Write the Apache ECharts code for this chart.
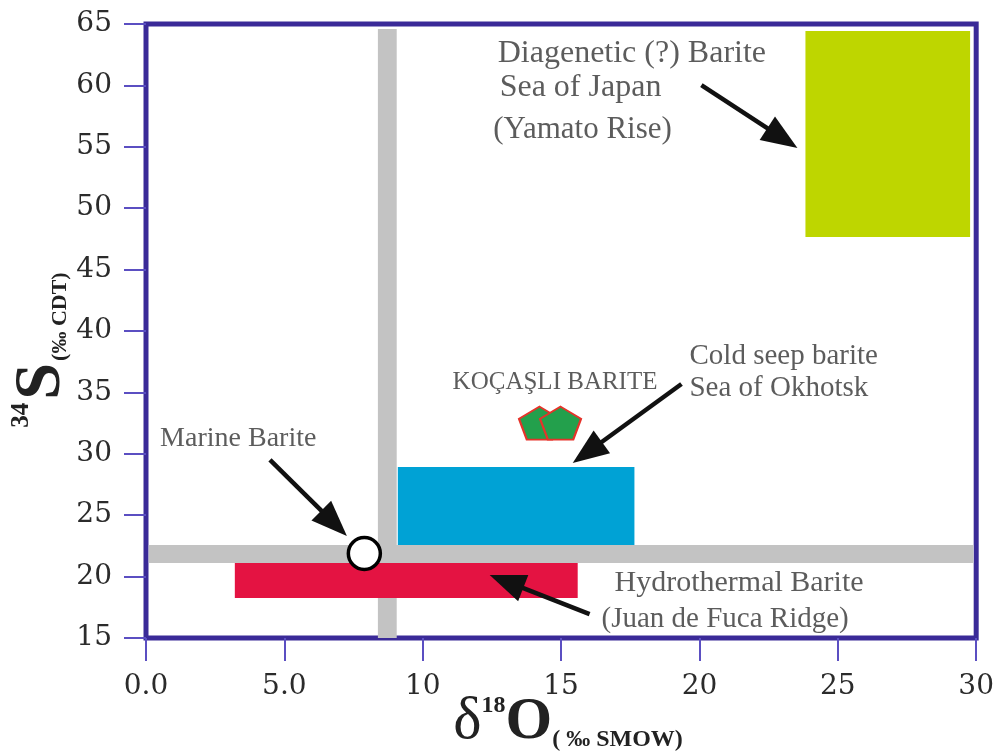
<!DOCTYPE html>
<html>
<head>
<meta charset="utf-8">
<script src="https://cdn.jsdelivr.net/npm/echarts@6/dist/echarts.min.js"></script>
<style>
html,body{margin:0;padding:0;background:#fff;}
#chart{width:997px;height:756px;}
</style>
</head>
<body>
<div id="chart"></div>
<script>
// ---- data ----
var xTicks = [0, 5, 10, 15, 20, 25, 30];
var xTickLabels = ['0.0', '5.0', '10', '15', '20', '25', '30'];
var yTicks = [15, 20, 25, 30, 35, 40, 45, 50, 55, 60, 65];

// fields: [xMin, xMax, yMin, yMax]
var fieldNames = ['Gray δ18O line', 'Gray δ34S line', 'Hydrothermal Barite', 'Cold seep barite', 'Diagenetic Barite'];
var fieldBoxes = [
  [8.38, 9.06, 15.0, 64.6],
  [0.1, 29.9, 21.11, 22.57],
  [3.21, 15.6, 18.26, 21.11],
  [9.1, 17.65, 22.57, 28.93],
  [23.83, 29.78, 47.65, 64.43]
];
var fieldColors = ['#c3c3c3', '#c3c3c3', '#e41342', '#00a2d5', '#bed600'];

var marineBarite = [[7.89, 21.88]];
var kocasliBarite = [[14.22, 32.5], [14.98, 32.5]];

// arrows: [tailX, tailY, tipX, tipY]
var arrows = [
  [20.07, 60.03, 23.54, 54.9],
  [19.35, 35.68, 15.42, 29.25],
  [4.48, 29.5, 7.26, 23.31],
  [16.03, 16.95, 12.42, 20.13]
];

// labels: [x, y, text, fontSize] (text starts at x)
var labels = [
  [12.71, 62.6, 'Diagenetic (?) Barite', 32],
  [12.78, 59.8, 'Sea of Japan', 32],
  [12.55, 56.35, '(Yamato Rise)', 31],
  [11.08, 35.8, 'KOÇAŞLI BARITE', 25],
  [19.64, 37.9, 'Cold seep barite', 29],
  [19.64, 35.3, 'Sea of Okhotsk', 29],
  [0.51, 31.2, 'Marine Barite', 28],
  [16.93, 19.5, 'Hydrothermal Barite', 30],
  [16.46, 16.55, '(Juan de Fuca Ridge)', 29]
];

var SERIF = '"Liberation Serif", "DejaVu Serif", serif';
var TICKFONT = '"DejaVu Serif", "Liberation Serif", serif';
var FRAME = '#3a2a98';
var TICK = '#5b4fc2';

var chart = echarts.init(document.getElementById('chart'));

var option = {
  backgroundColor: '#ffffff',
  animation: false,
  grid: {
    left: 146, right: 20, top: 24, bottom: 118,
    show: true, borderColor: FRAME, borderWidth: 5, backgroundColor: 'transparent'
  },
  xAxis: {
    type: 'value', min: xTicks[0], max: xTicks[xTicks.length - 1], interval: 5,
    axisLine: { show: false },
    splitLine: { show: false },
    axisTick: { show: true, length: 23, lineStyle: { color: TICK, width: 2 } },
    axisLabel: {
      margin: 35, fontFamily: TICKFONT, fontSize: 28, color: '#2b2b2b',
      formatter: function (v) { var i = xTicks.indexOf(v); return i >= 0 ? xTickLabels[i] : ''; }
    }
  },
  yAxis: {
    type: 'value', min: yTicks[0], max: yTicks[yTicks.length - 1], interval: 5,
    axisLine: { show: false },
    splitLine: { show: false },
    axisTick: { show: true, length: 22, lineStyle: { color: TICK, width: 2 } },
    axisLabel: { margin: 34, fontFamily: TICKFONT, fontSize: 28, color: '#2b2b2b' }
  },
  graphic: [
    {
      type: 'text', x: 42, y: 350, rotation: Math.PI / 2,
      style: {
        text: '{sup|34}{main|S}{sub|(‰ CDT)}',
        align: 'center', verticalAlign: 'middle',
        rich: {
          sup: { fontFamily: SERIF, fontSize: 25, fontWeight: 'bold', fill: '#222', verticalAlign: 'top', padding: [0, 3, 0, 0] },
          main: { fontFamily: SERIF, fontSize: 66, fontWeight: 'bold', fill: '#222' },
          sub: { fontFamily: SERIF, fontSize: 22, fontWeight: 'bold', fill: '#222', verticalAlign: 'bottom', padding: [0, 0, 4, 2] }
        }
      }
    },
    {
      type: 'text', x: 568, y: 722,
      style: {
        text: '{d|δ}{sup|18}{main|O}{sub|( ‰ SMOW)}',
        align: 'center', verticalAlign: 'middle',
        rich: {
          d: { fontFamily: SERIF, fontSize: 60, fill: '#222' },
          sup: { fontFamily: SERIF, fontSize: 24, fontWeight: 'bold', fill: '#222', verticalAlign: 'top', padding: [2, 0, 0, 0] },
          main: { fontFamily: SERIF, fontSize: 60, fontWeight: 'bold', fill: '#222' },
          sub: { fontFamily: SERIF, fontSize: 24, fontWeight: 'bold', fill: '#222', verticalAlign: 'bottom' }
        }
      }
    }
  ],
  series: [
    {
      name: 'fields', type: 'custom', z: 1,
      encode: { x: [0, 1], y: [2, 3] },
      data: fieldBoxes,
      renderItem: function (params, api) {
        var p1 = api.coord([api.value(0), api.value(3)]);
        var p2 = api.coord([api.value(1), api.value(2)]);
        return {
          type: 'rect',
          shape: { x: p1[0], y: p1[1], width: p2[0] - p1[0], height: p2[1] - p1[1] },
          style: { fill: fieldColors[params.dataIndex] }
        };
      }
    },
    {
      name: 'arrows', type: 'custom', z: 3,
      encode: { x: [0, 2], y: [1, 3] },
      data: arrows,
      renderItem: function (params, api) {
        var a = api.coord([api.value(0), api.value(1)]);
        var b = api.coord([api.value(2), api.value(3)]);
        var dx = b[0] - a[0], dy = b[1] - a[1];
        var len = Math.sqrt(dx * dx + dy * dy);
        var ux = dx / len, uy = dy / len;
        var headLen = 36, headW = 28;
        var bx = b[0] - ux * headLen, by = b[1] - uy * headLen;
        var px = -uy, py = ux;
        return {
          type: 'group',
          children: [
            { type: 'line', shape: { x1: a[0], y1: a[1], x2: bx + ux * 4, y2: by + uy * 4 }, style: { stroke: '#111', lineWidth: 4.5 } },
            { type: 'polygon', shape: { points: [[b[0], b[1]], [bx + px * headW / 2, by + py * headW / 2], [bx - px * headW / 2, by - py * headW / 2]] }, style: { fill: '#111' } }
          ]
        };
      }
    },
    {
      name: 'KOÇAŞLI BARITE', type: 'scatter', z: 4,
      data: kocasliBarite,
      symbol: 'path://M50 0 L100 37 L81 100 L19 100 L0 37 Z',
      symbolSize: [41, 33],
      itemStyle: { color: '#23a04c', borderColor: '#e5332a', borderWidth: 2, opacity: 1 }
    },
    {
      name: 'Marine Barite', type: 'scatter', z: 5,
      data: marineBarite,
      symbol: 'circle', symbolSize: 32,
      itemStyle: { color: '#ffffff', borderColor: '#000', borderWidth: 3.5, opacity: 1 }
    },
    {
      name: 'labels', type: 'scatter', z: 6,
      data: labels.map(function (l) {
        return { value: [l[0], l[1]], name: l[2], label: { fontSize: l[3] } };
      }),
      symbolSize: 0, silent: true,
      label: {
        show: true, position: 'right', distance: 0,
        formatter: '{b}', fontFamily: SERIF, fontSize: 28, color: '#333333'
      }
    }
  ]
};
chart.setOption(option);
</script>
</body>
</html>
